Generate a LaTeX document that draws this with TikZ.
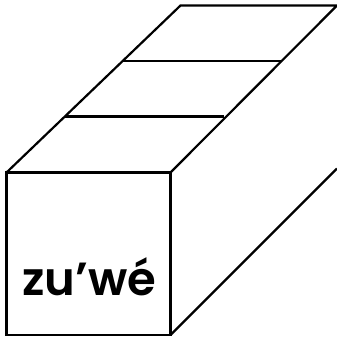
\documentclass[tikz,border=0pt]{standalone}
\usepackage{fontspec}
\setmainfont{Poppins}[BoldFont={Poppins SemiBold}]
\tikzset{px/.style={x=1pt,y=-1pt},edge/.style={draw=black,line width=2.2pt,line join=miter,line cap=butt},lab/.style={font=\fontsize{46.5}{46.5}\selectfont\bfseries,inner sep=0pt,anchor=base}}
\begin{document}
\begin{tikzpicture}[px]
\useasboundingbox (0,0) rectangle (337,341);
\coordinate (a) at (6.5,172.5);
\coordinate (b) at (170.5,172.5);
\coordinate (c) at (170.5,335);
\coordinate (d) at (6.5,335);
\coordinate (e) at (180.5,5.5);
\coordinate (f) at (337,5.5);
\coordinate (g) at (337,168.5);
\coordinate (h1) at (122,61);
\coordinate (h2) at (281.5,61);
\coordinate (k1) at (65,116.5);
\coordinate (k2) at (223.5,116.5);
\draw[edge] (a) -- (b) -- (c) -- (d) -- cycle;
\draw[edge] (a) -- (e) -- (f) -- (b);
\draw[edge] (c) -- (g);
\draw[edge] (h1) -- (h2);
\draw[edge] (k1) -- (k2);
\node[lab] (t) at (89,295) {zu’wé};
\end{tikzpicture}
\end{document}
